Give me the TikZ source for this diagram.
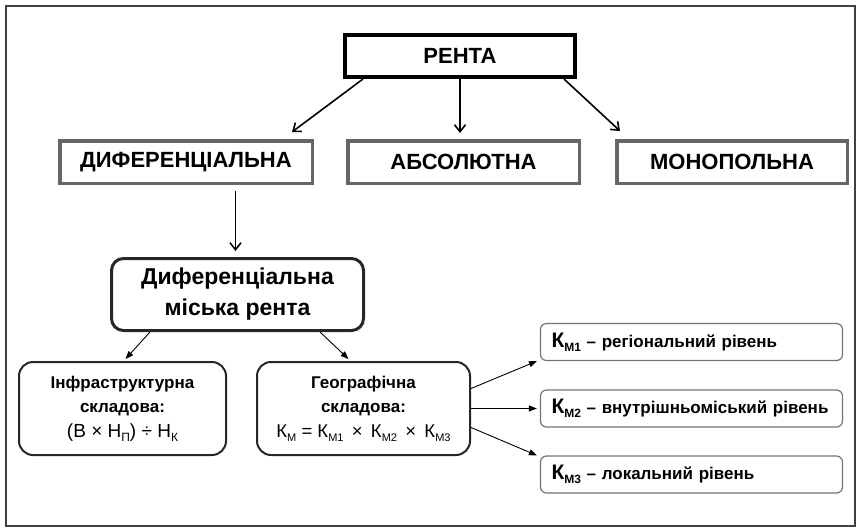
\documentclass[tikz,border=0pt]{standalone}
\usepackage{fontspec}
\setmainfont{Liberation Sans}
\usetikzlibrary{arrows.meta,calc}
\newcommand\sbs[2]{\raisebox{-0.22em}{\fontsize{#1}{#1}\selectfont #2}}
\newcommand\tms{\hspace{0.45em}×\hspace{0.45em}}
\begin{document}
\begin{tikzpicture}[x=1pt,y=-1pt,
  topbox/.style={draw=black!60, line width=3.5pt, fill=white, inner sep=0pt,
    minimum width=#1, minimum height=42.5pt,
    font=\fontsize{22}{25}\selectfont\bfseries},
  midbox/.style={draw=black!85, line width=2pt, rounded corners=14pt, inner sep=0pt,
    minimum width=#1, minimum height=93pt, align=center,
    font=\fontsize{17}{24}\selectfont},
  kbox/.style={draw=black!55, line width=1.2pt, rounded corners=6pt, inner xsep=11pt,
    inner ysep=0pt, text width=280pt, minimum height=37pt, align=left,
    font=\fontsize{17}{20}\selectfont\bfseries},
  bigarrow/.style={-{Straight Barb[length=7pt,width=11pt]}, line width=1.6pt},
  smallarrow/.style={-{Triangle[length=8pt,width=6pt]}, line width=0.9pt}]
\useasboundingbox (0,0) rectangle (859,528);
\draw[line width=2pt, draw=black!75] (6,6) rectangle (855,526);

\node[draw, line width=4pt, fill=white, inner sep=0pt, minimum width=230pt,
  minimum height=42pt, font=\fontsize{22}{25}\selectfont\bfseries] (renta) at (460,56) {РЕНТА};

\node[topbox=252.5pt] (dif) at (186,162) {ДИФЕРЕНЦІАЛЬНА};
\node[topbox=231.5pt] (abs) at (463.5,162) {АБСОЛЮТНА};
\node[topbox=230.5pt] (mono) at (732,162) {МОНОПОЛЬНА};

\node[draw=black!85, line width=3pt, rounded corners=12pt, inner sep=0pt,
  minimum width=252pt, minimum height=72pt, align=center,
  font=\fontsize{23}{31}\selectfont\bfseries] (dmr) at (237.5,294.5)
  {Диференціальна\\міська рента};

\node[midbox=207pt] (infra) at (122.5,408.5)
  {\textbf{Інфраструктурна}\\\textbf{складова:}\\[1pt]
   {\fontsize{19}{25}\selectfont (В × Н\sbs{12}{П}) ÷ Н\sbs{12}{К}}};
\node[midbox=213pt] (geo) at (363.5,408.5)
  {\textbf{Географічна}\\\textbf{складова:}\\[1pt]
   {\fontsize{18.5}{25}\selectfont К\sbs{11}{М} = К\sbs{11}{М1}\tms К\sbs{11}{М2}\tms К\sbs{11}{М3}}};

\node[kbox] (k1) at (691.5,342)
  {{\fontsize{21}{20}\selectfont К}\sbs{12}{М1} – регіональний рівень};
\node[kbox] (k2) at (691.5,408.5)
  {{\fontsize{21}{20}\selectfont К}\sbs{12}{М2} – внутрішньоміський рівень};
\node[kbox] (k3) at (691.5,474.5)
  {{\fontsize{21}{20}\selectfont К}\sbs{12}{М3} – локальний рівень};

\draw[bigarrow] ($(renta.south west)+(20,0)$) -- ($(dif.north east)+(-22,-7)$);
\draw[bigarrow] (renta.south) -- ($(renta.south |- abs.north)+(0,-6)$);
\draw[bigarrow] ($(renta.south east)+(-13,0)$) -- ($(mono.north west)+(5,-8)$);
\draw[bigarrow] ($(dmr.north |- dif.south)+(-2,6)$) -- ($(dmr.north)+(-2,-6)$);

\draw[smallarrow] ($(dmr.south west)+(40,0)$) -- ($(infra.north)+(3,-2)$);
\draw[smallarrow] ($(dmr.south east)+(-45,0)$) -- ($(geo.north)+(-15,-2)$);

\draw[smallarrow] ($(geo.east)+(0,-20)$) -- ($(k1.south west)+(-3,0)$);
\draw[smallarrow] (geo.east) -- ($(k2.west)+(-3,0)$);
\draw[smallarrow] ($(geo.east)+(0,19)$) -- ($(k3.north west)+(-3,0)$);
\end{tikzpicture}
\end{document}
